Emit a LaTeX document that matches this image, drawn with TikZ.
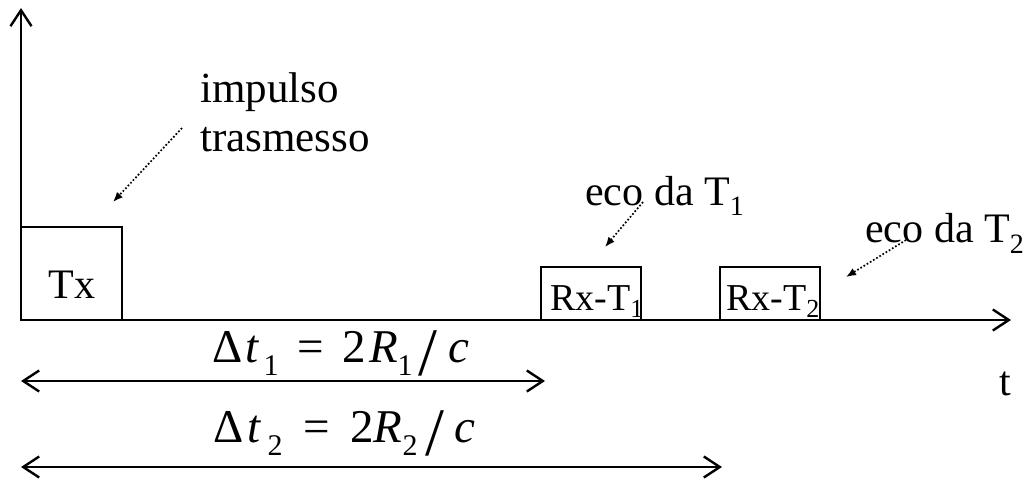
\documentclass[tikz,border=0pt]{standalone}
\usepackage{fontspec}
\setmainfont{Liberation Serif}
\usetikzlibrary{arrows.meta}
\tikzset{
  barb/.tip={Straight Barb[length=16pt,width=21pt,line width=2.4pt]},
  axis/.style={line width=2.6pt, -barb},
  dim/.style={line width=2.6pt, barb-barb},
  pulse/.style={draw, line width=2pt, inner sep=0pt},
  pointer/.style={line width=1.7pt, dotted, -{Latex[length=10pt,width=8pt]}},
  lbl/.style={font=\fontsize{42}{50}\selectfont, inner sep=0pt},
  rxl/.style={font=\fontsize{38}{44}\selectfont, inner sep=0pt},
  big/.style={font=\fontsize{43}{49}\selectfont, inner sep=0pt},
  frm/.style={font=\fontsize{47}{50}\selectfont, inner sep=0pt},
}
\newcommand{\sbs}[1]{\raisebox{-10pt}{\fontsize{28}{28}\selectfont #1}}
\newcommand{\sbr}[1]{\raisebox{-7pt}{\fontsize{26}{26}\selectfont #1}}
\newcommand{\fpiece}[2]{\makebox[0pt][l]{\hspace*{#1pt}#2}}
\newcommand{\fsub}[1]{\raisebox{-13pt}{\fontsize{30}{30}\selectfont #1}}
\newcommand{\fslash}{\raisebox{-13pt}{\fontsize{68}{68}\selectfont /}}
\begin{document}
\begin{tikzpicture}[x=1pt,y=-1pt]
\useasboundingbox (0,0) rectangle (1028,481);
\coordinate (O) at (21,320);
\coordinate (Ytop) at (21,8);
\coordinate (Xend) at (1011,320);
\draw[axis] (O) -- (Ytop);
\draw[axis] (O) -- (Xend);

\node[pulse, minimum width=101pt, minimum height=93pt] (tx) at (71.5,273.5) {};
\node[pulse, minimum width=100pt, minimum height=53pt] (rx1) at (591,293.5) {};
\node[pulse, minimum width=100pt, minimum height=53pt] (rx2) at (770,293.5) {};

\node[lbl, anchor=base] (txl) at (72,298) {Tx};
\node[rxl, anchor=base west] (rx1l) at (550,310) {Rx-T\sbr{1}};
\node[rxl, anchor=base west] (rx2l) at (726,310) {Rx-T\sbr{2}};

\node[big, anchor=base west, align=left] (imp) at (200,152) {impulso\\trasmesso};
\node[lbl, anchor=base west] (eco1) at (585,206) {eco da T\sbs{1}};
\node[lbl, anchor=base west] (eco2) at (865,243) {eco da T\sbs{2}};
\node[lbl, anchor=base] (t) at (1005,395) {t};

\coordinate (p1s) at (182,128);
\coordinate (p1e) at (113,202);
\coordinate (p2s) at (643,202);
\coordinate (p2e) at (605,247);
\coordinate (p3s) at (906,240);
\coordinate (p3e) at (846,277);
\draw[pointer] (p1s) -- (p1e);
\draw[pointer] (p2s) -- (p2e);
\draw[pointer] (p3s) -- (p3e);

\node[frm, anchor=base west] (f1) at (212,362) {\fpiece{0}{Δ}\fpiece{33}{\textit{t}}\fpiece{51}{\fsub{1}}\fpiece{85}{=}\fpiece{130}{2}\fpiece{157}{\textit{R}}\fpiece{185}{\fsub{1}}\fpiece{206}{\fslash}\fpiece{236}{\textit{c}}};
\node[frm, anchor=base west] (f2) at (213,442) {\fpiece{0}{Δ}\fpiece{34}{\textit{t}}\fpiece{54}{\fsub{2}}\fpiece{90}{=}\fpiece{137}{2}\fpiece{160}{\textit{R}}\fpiece{189}{\fsub{2}}\fpiece{212}{\fslash}\fpiece{241}{\textit{c}}};

\coordinate (d1a) at (21,381);
\coordinate (d1b) at (545,381);
\coordinate (d2a) at (21,467);
\coordinate (d2b) at (722,467);
\draw[dim] (d1a) -- (d1b);
\draw[dim] (d2a) -- (d2b);
\end{tikzpicture}
\end{document}
